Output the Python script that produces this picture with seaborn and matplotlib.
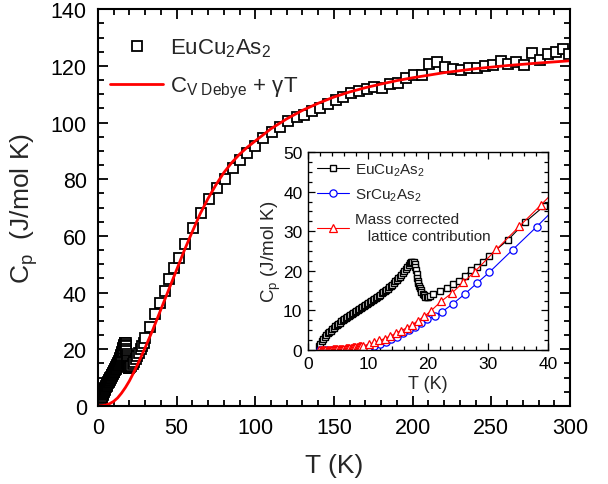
import matplotlib
matplotlib.use("Agg")
import numpy as np
import pandas as pd
import seaborn as sns
import matplotlib.pyplot as plt
from matplotlib.ticker import MultipleLocator
from matplotlib.lines import Line2D

sns.set_theme(style="ticks")
plt.rcParams['font.family'] = ['Liberation Sans', 'DejaVu Sans']
plt.rcParams['mathtext.fontset'] = 'custom'
plt.rcParams['mathtext.rm'] = 'Liberation Sans'
plt.rcParams['mathtext.it'] = 'Liberation Sans:italic'
plt.rcParams['mathtext.bf'] = 'Liberation Sans:bold'

# ---------------- data ----------------
# EuCu2As2, dense low-T data (K, J/mol K)
eu_T_low = [1.8, 2.0, 2.25, 2.5, 2.75, 3.0, 3.25, 3.5, 3.75, 4.0, 4.25, 4.5, 4.75, 5.0,
            5.25, 5.5, 5.75, 6.0, 6.25, 6.5, 6.75, 7.0, 7.25, 7.5, 7.75, 8.0, 8.25, 8.5,
            8.75, 9.0, 9.25, 9.5, 9.75, 10.0, 10.25, 10.5, 10.75, 11.0, 11.25, 11.5,
            11.75, 12.0, 12.25, 12.5, 12.75, 13.0, 13.25, 13.5, 13.75, 14.0, 14.25,
            14.5, 14.75, 15.0, 15.25, 15.5, 15.75, 16.0, 16.25, 16.5, 16.75, 17.0,
            17.2, 17.4, 17.6, 17.75, 17.9, 18.0, 18.1, 18.2, 18.3, 18.4, 18.5, 18.6,
            18.75, 18.9, 19.1, 19.3, 19.5, 19.75, 20.0, 20.3]
eu_Cp_low = [1.0, 1.6, 2.2, 2.8, 3.3, 3.8, 4.2, 4.5, 4.9, 5.3, 5.6, 6.0, 6.3, 6.6,
             6.9, 7.2, 7.5, 7.8, 8.0, 8.3, 8.5, 8.8, 9.0, 9.3, 9.5, 9.8, 10.0, 10.3,
             10.5, 10.8, 11.0, 11.3, 11.5, 11.8, 12.1, 12.3, 12.6, 12.9, 13.1, 13.4,
             13.7, 14.0, 14.3, 14.6, 14.9, 15.2, 15.5, 15.8, 16.2, 16.5, 16.9,
             17.3, 17.7, 18.1, 18.5, 19.0, 19.5, 20.0, 20.5, 21.0, 21.5, 21.9,
             22.2, 22.3, 22.1, 21.6, 21.0, 20.2, 19.3, 18.3, 17.5, 16.8, 16.2, 15.7,
             15.1, 14.6, 14.1, 13.8, 13.5, 13.4, 13.5, 13.7]
# EuCu2As2, higher-T data
eu_T_high = [20.9, 22.0, 23.1, 24.1, 25.1, 26.1, 27.1, 28.1, 29.1, 30.2, 33.4, 36.2,
             39.4, 42.4, 45.1, 48.3, 51.3, 55.1, 60.4, 65.5, 70.6, 75.6, 80.7, 85.6,
             90.3, 94.9, 99.8, 105.1, 110.4, 115.7, 121.0, 126.3, 131.2, 135.9, 141.1,
             146.4, 151.1, 155.9, 160.8, 165.9, 170.8, 175.5, 180.8, 185.8, 190.9,
             195.8, 200.9, 205.8, 210.6, 215.7, 220.8, 225.9, 230.8, 235.9, 240.7,
             246.0, 250.9, 256.0, 260.8, 265.7, 270.8, 275.9, 281.0, 285.9, 291.0,
             295.8, 299.6]
eu_Cp_high = [14.1, 14.9, 15.6, 16.6, 17.5, 18.6, 20.2, 21.0, 22.2, 23.8, 27.9, 32.3,
              36.4, 40.4, 44.7, 48.5, 52.3, 57.1, 62.9, 68.1, 72.9, 76.8, 80.2, 83.9,
              86.7, 89.3, 91.8, 94.4, 96.5, 98.6, 100.5, 102.1, 102.8, 103.9, 105.3,
              106.5, 107.9, 109.1, 110.3, 111.3, 112.0, 112.4, 112.2, 113.5, 113.9,
              115.7, 116.8, 116.7, 120.7, 121.2, 119.6, 118.8, 118.7, 119.4, 119.1,
              119.9, 120.2, 121.8, 120.7, 121.2, 120.2, 124.7, 122.1, 124.1, 124.9,
              126.1, 124.1]

# Debye + gamma T curve
debye_T = [0, 2.5, 5, 7.5, 10, 12.5, 15, 17.5, 20, 22.5, 25, 27.5, 30, 35, 40, 45, 50,
           55, 60, 65, 70, 75, 80, 85, 90, 95, 100, 110, 120, 130, 140, 150, 160, 170,
           180, 190, 200, 220, 240, 260, 280, 300]
debye_Cp = [0, 0.05, 0.3, 0.8, 1.6, 2.8, 4.5, 6.5, 8.8, 11.5, 14.4, 17.4, 20.5, 27.0,
            34.0, 41.0, 48.0, 55.0, 61.5, 67.8, 73.2, 78.0, 82.3, 85.8, 88.8, 91.3, 93.5,
            97.8, 101.3, 104.3, 106.8, 109.0, 110.8, 112.3, 113.6, 114.8, 115.8, 117.6,
            119.0, 120.1, 121.0, 121.8]

# SrCu2As2 (inset)
sr_T = [2.0, 3.0, 4.0, 5.0, 6.0, 7.0, 8.0, 9.0, 10.0, 11.0, 12.0, 13.0, 13.9, 14.9,
        15.9, 16.9, 17.8, 18.9, 19.9, 21.1, 22.3, 24.1, 26.1, 28.1, 30.2, 34.1, 38.1, 42.0]
sr_Cp = [0.0, 0.01, 0.03, 0.06, 0.1, 0.17, 0.26, 0.4, 0.6, 1.1, 1.5, 2.1, 2.8, 3.4,
         4.2, 5.0, 5.9, 6.8, 7.8, 8.6, 9.6, 11.6, 14.1, 16.8, 19.6, 25.3, 31.1, 37.0]

# Mass corrected lattice contribution (inset)
lat_T = [1.9, 2.1, 2.3, 2.5, 2.7, 2.9, 3.1, 3.3, 3.5, 3.7, 3.9, 4.1, 4.3, 4.5, 4.7,
         4.9, 5.1, 5.3, 5.5, 5.7, 5.9, 6.1, 6.3, 6.5, 6.7, 6.9, 7.1, 7.3, 7.5, 7.7,
         7.9, 8.1, 8.3, 8.5, 8.7, 8.9, 9.2, 10.1, 11.0, 11.9, 12.8, 13.7, 14.6, 15.5,
         16.5, 17.4, 18.3, 19.4, 20.5, 22.2, 24.0, 25.9, 27.8, 31.4, 35.2, 38.8, 42.6]
lat_Cp = [0.02, 0.03, 0.03, 0.04, 0.05, 0.06, 0.07, 0.08, 0.09, 0.10, 0.11, 0.13,
          0.14, 0.16, 0.18, 0.2, 0.22, 0.24, 0.27, 0.3, 0.33, 0.36, 0.4, 0.43, 0.47,
          0.5, 0.55, 0.6, 0.64, 0.69, 0.74, 0.8, 0.85, 0.9, 0.96, 1.02, 1.1, 1.4, 1.9,
          2.4, 2.9, 3.5, 4.2, 4.9, 5.6, 6.4, 7.4, 8.5, 9.9, 12.3, 14.4, 17.1, 19.8,
          25.4, 31.2, 36.6, 42.5]

eu_T = eu_T_low + eu_T_high
eu_Cp = eu_Cp_low + eu_Cp_high
df_eu = pd.DataFrame({"T": eu_T, "Cp": eu_Cp})
df_db = pd.DataFrame({"T": debye_T, "Cp": debye_Cp})
df_sr = pd.DataFrame({"T": sr_T, "Cp": sr_Cp})
df_lat = pd.DataFrame({"T": lat_T, "Cp": lat_Cp})

# ---------------- figure ----------------
fig = plt.figure(figsize=(6.08, 4.85), dpi=100)
ax = fig.add_axes([0.161, 0.161, 0.7765, 0.818])

sq_kw = dict(marker="s", markersize=6.5, markerfacecolor="white",
             markeredgecolor="black", markeredgewidth=1.3)
sns.lineplot(data=df_eu, x="T", y="Cp", ax=ax, estimator=None, sort=False,
             linestyle="", color="black", **sq_kw)
sns.lineplot(data=df_db, x="T", y="Cp", ax=ax, estimator=None, sort=False,
             color="#ff0000", linewidth=2.0)

ax.set_xlim(0, 300)
ax.set_ylim(0, 140)
ax.xaxis.set_major_locator(MultipleLocator(50))
ax.xaxis.set_minor_locator(MultipleLocator(10))
ax.yaxis.set_major_locator(MultipleLocator(20))
ax.yaxis.set_minor_locator(MultipleLocator(5))
ax.tick_params(which="both", direction="in", top=True, right=True, colors="black",
               labelsize=15.5, width=1.3)
ax.tick_params(which="major", length=7, pad=8)
ax.tick_params(which="minor", length=4)
for s in ax.spines.values():
    s.set_linewidth(1.5)
    s.set_color("black")
ax.set_xlabel("T (K)", fontsize=19, labelpad=11)
ax.set_ylabel(r"C$_\mathrm{p}$  (J/mol K)", fontsize=19, labelpad=8)

h1 = Line2D([], [], linestyle="", **sq_kw)
h2 = Line2D([], [], color="#ff0000", linewidth=2.0)
ax.legend([h1, h2], [r"EuCu$_2$As$_2$", r"C$_\mathrm{V\ Debye}$ + γT"],
          loc="upper left", bbox_to_anchor=(-0.007, 0.97), frameon=False, fontsize=16,
          handlelength=2.4, handletextpad=0.3, labelspacing=0.7, borderaxespad=0.3)

# ---------------- inset ----------------
ax2 = fig.add_axes([0.5066, 0.2763, 0.3947, 0.4082])
e_kw = dict(color="black", linewidth=0.8, marker="s", markersize=4.8,
            markerfacecolor="white", markeredgecolor="black", markeredgewidth=1.0)
s_kw = dict(color="#0000ff", linewidth=0.8, marker="o", markersize=5.2,
            markerfacecolor="white", markeredgecolor="#0000ff", markeredgewidth=0.9)
l_kw = dict(color="#ff0000", linewidth=0.8, marker="^", markersize=6,
            markerfacecolor="white", markeredgecolor="#ff0000", markeredgewidth=0.9)
sns.lineplot(data=df_eu, x="T", y="Cp", ax=ax2, estimator=None, sort=False, **e_kw)
sns.lineplot(data=df_sr, x="T", y="Cp", ax=ax2, estimator=None, sort=False, **s_kw)
sns.lineplot(data=df_lat, x="T", y="Cp", ax=ax2, estimator=None, sort=False, **l_kw)
ax2.set_xlim(0, 40)
ax2.set_ylim(0, 50)
ax2.xaxis.set_major_locator(MultipleLocator(10))
ax2.xaxis.set_minor_locator(MultipleLocator(2))
ax2.yaxis.set_major_locator(MultipleLocator(10))
ax2.yaxis.set_minor_locator(MultipleLocator(2.5))
ax2.tick_params(which="both", direction="in", top=True, right=True, colors="black",
                labelsize=12.5, width=0.9)
ax2.tick_params(which="major", length=5, pad=4)
ax2.tick_params(which="minor", length=3)
for s in ax2.spines.values():
    s.set_linewidth(1.0)
    s.set_color("black")
ax2.set_xlabel("T (K)", fontsize=13, labelpad=3)
ax2.set_ylabel(r"C$_\mathrm{p}$ (J/mol K)", fontsize=13.5, labelpad=0)

g1 = Line2D([], [], **e_kw)
g2 = Line2D([], [], **s_kw)
g3 = Line2D([], [], **l_kw)
ax2.legend([g1, g2, g3],
           [r"EuCu$_2$As$_2$", r"SrCu$_2$As$_2$", "Mass corrected\n   lattice contribution"],
           loc="upper left", frameon=False, fontsize=11, handlelength=2.1,
           handletextpad=0.35, labelspacing=0.6, borderaxespad=0.2)

fig.savefig("out.png", dpi=100)
